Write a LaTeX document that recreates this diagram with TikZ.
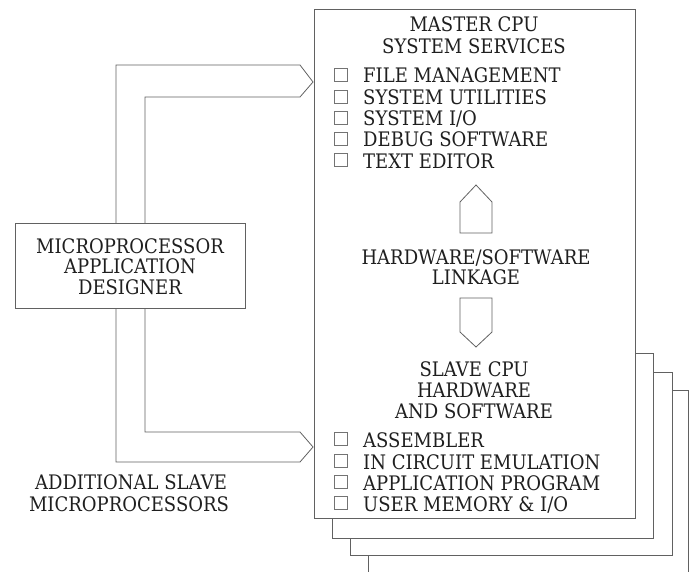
\documentclass[tikz,border=0pt]{standalone}
\usepackage{fontspec}
\setmainfont{DejaVu Serif}[FakeStretch=0.9]
\begin{document}
\begin{tikzpicture}[x=1pt,y=-1pt,
  ln/.style={draw=black!62, line width=0.8pt},
  sheet/.style={ln, fill=white},
  txt/.style={font=\fontsize{20}{21}\selectfont, text=black!88, inner sep=0pt},
  cbox/.style={draw=black!55, line width=0.6pt, minimum width=13pt, minimum height=13pt, inner sep=0pt, anchor=south west}]
\useasboundingbox (0,0) rectangle (690,572);
\begin{scope}
\clip (0,0) rectangle (690,572);
% stacked sheets
\draw[sheet] (368,390) rectangle (688,590);
\draw[sheet] (350,372) rectangle (672,555);
\draw[sheet] (332,353) rectangle (653,538);
\end{scope}
\node[sheet, minimum width=321pt, minimum height=509pt, anchor=north west, inner sep=0pt] (master) at (314,9) {};
% master texts
\node[txt, anchor=base] (mt1) at (474,32) {MASTER CPU};
\node[txt, anchor=base] (mt2) at (474,54) {SYSTEM SERVICES};
\foreach \y/\t [count=\i] in {83/{FILE MANAGEMENT},105/{SYSTEM UTILITIES},126/{SYSTEM I/O},147/{DEBUG SOFTWARE},168/{TEXT EDITOR}}{
  \node[cbox] (mb\i) at (334,\y-1) {};
  \node[txt, anchor=base west] (mi\i) at (363,\y) {\t};
}
% linkage arrows
\draw[ln] (460,233) -- (460,202) -- (476,185) -- (492,202) -- (492,233) -- cycle;
\node[txt, anchor=base] (lk1) at (476,264) {HARDWARE/SOFTWARE};
\node[txt, anchor=base] (lk2) at (476,284) {LINKAGE};
\draw[ln] (460,298) -- (460,332) -- (476,347) -- (492,332) -- (492,298) -- cycle;
% slave texts
\node[txt, anchor=base] (st1) at (474,376) {SLAVE CPU};
\node[txt, anchor=base] (st2) at (474,397) {HARDWARE};
\node[txt, anchor=base] (st3) at (474,418) {AND SOFTWARE};
\foreach \y/\t [count=\i] in {447/{ASSEMBLER},469/{IN CIRCUIT EMULATION},490/{APPLICATION PROGRAM},511/{USER MEMORY \& I/O}}{
  \node[cbox] (sb\i) at (334,\y-1) {};
  \node[txt, anchor=base west] (si\i) at (363,\y) {\t};
}
% designer
\node[ln, minimum width=230pt, minimum height=85pt, anchor=north west, inner sep=0pt] (des) at (15,223) {};
\node[txt, anchor=base] (d1) at (130,253) {MICROPROCESSOR};
\node[txt, anchor=base] (d2) at (130,273) {APPLICATION};
\node[txt, anchor=base] (d3) at (130,294) {DESIGNER};
% buses
\coordinate (busO) at (116,0);
\coordinate (busI) at (145,0);
\coordinate (tipU) at (313,82);
\coordinate (tipL) at (313,447);
\draw[ln] (des.north -| busO) -- (116,65) -- (300,65) -- (tipU) -- (300,97) -- (145,97) -- (des.north -| busI);
\draw[ln] (des.south -| busO) -- (116,462) -- (300,462) -- (tipL) -- (300,432) -- (145,432) -- (des.south -| busI);
% additional
\node[txt, anchor=base] (a1) at (131,489) {ADDITIONAL SLAVE};
\node[txt, anchor=base] (a2) at (129,511) {MICROPROCESSORS};
\end{tikzpicture}
\end{document}
